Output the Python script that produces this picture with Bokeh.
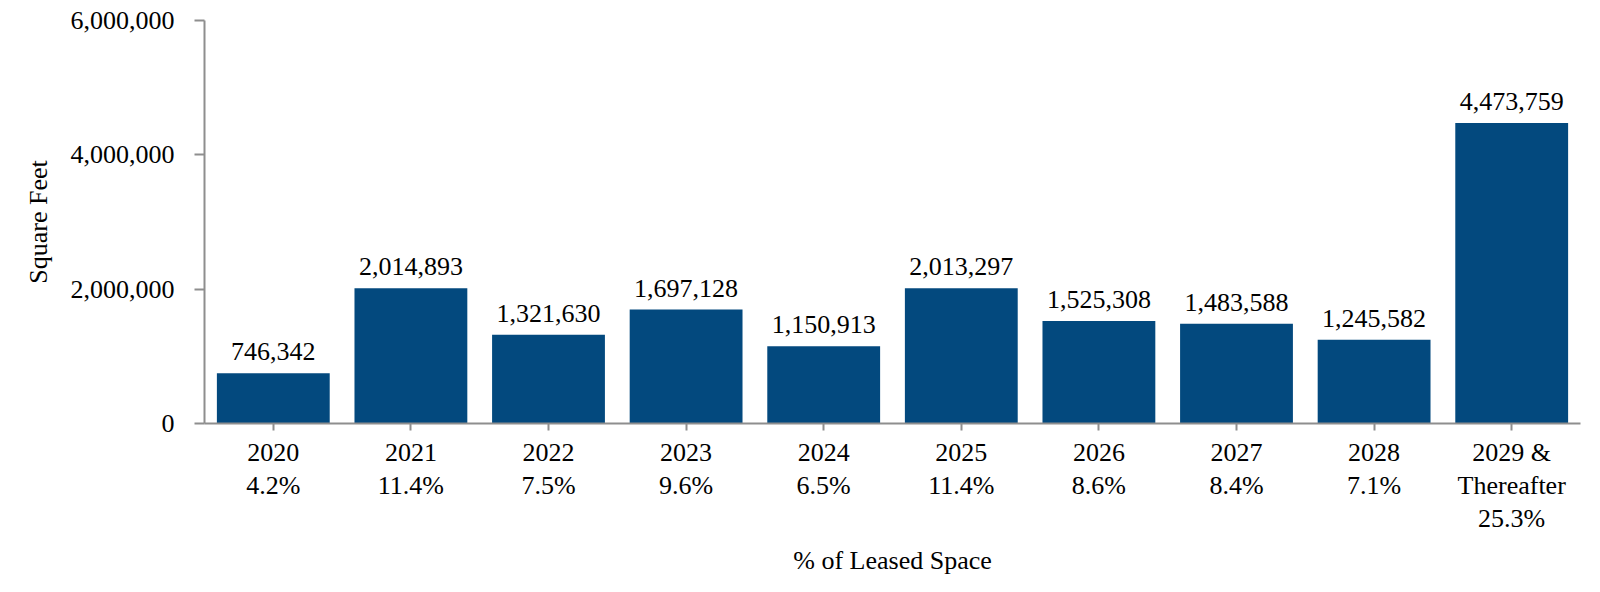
from bokeh.plotting import figure
from bokeh.models import ColumnDataSource, FactorRange, Range1d, FixedTicker, NumeralTickFormatter, LabelSet
from bokeh.embed import file_html
from bokeh.resources import INLINE

years = ["2020", "2021", "2022", "2023", "2024", "2025", "2026", "2027", "2028", "2029 &\nThereafter"]
pct_leased = ["4.2%", "11.4%", "7.5%", "9.6%", "6.5%", "11.4%", "8.6%", "8.4%", "7.1%", "25.3%"]
square_feet = [746342, 2014893, 1321630, 1697128, 1150913, 2013297, 1525308, 1483588, 1245582, 4473759]
y_ticks = [0, 2000000, 4000000, 6000000]

factors = [f"{y}\n{p}" for y, p in zip(years, pct_leased)]
labels = [f"{v:,}" for v in square_feet]

src = ColumnDataSource(dict(x=factors, top=square_feet, label=labels))

FONT = "Liberation Serif"
FS = "26px"
BAR = "#03497E"
AXIS = "#8E8E8E"

p = figure(width=1600, height=592, x_range=FactorRange(factors=factors, range_padding=0),
           y_range=Range1d(0, 6000000), output_backend="svg", toolbar_location=None,
           min_border_left=204, min_border_right=20, min_border_top=20, min_border_bottom=169)
p.outline_line_color = None
p.grid.grid_line_color = None
p.background_fill_color = "white"
p.border_fill_color = "white"

p.vbar(x="x", top="top", width=0.82, source=src, fill_color=BAR, line_color=None)

p.add_layout(LabelSet(x="x", y="top", text="label", source=src, y_offset=13,
                      text_align="center", text_baseline="alphabetic",
                      text_font=FONT, text_font_size=FS, text_color="black"))

ya = p.yaxis[0]
ya.ticker = FixedTicker(ticks=y_ticks)
ya.formatter = NumeralTickFormatter(format="0,0")
ya.axis_label = "Square Feet"
ya.minor_tick_line_color = None
ya.major_tick_out = 10
ya.major_tick_in = 0
ya.major_label_standoff = 20
ya.axis_label_standoff = 15
ya.axis_line_color = AXIS
ya.axis_line_width = 2
ya.major_tick_line_color = AXIS
ya.major_tick_line_width = 2

xa = p.xaxis[0]
xa.axis_label = "% of Leased Space"
xa.major_tick_out = 7
xa.major_tick_in = 0
xa.major_label_standoff = 7
xa.axis_label_standoff = 10
xa.major_label_text_line_height = 1.15
xa.axis_line_color = AXIS
xa.axis_line_width = 2
xa.major_tick_line_color = AXIS
xa.major_tick_line_width = 2
xa.minor_tick_line_color = None

for ax in (xa, ya):
    ax.major_label_text_font = FONT
    ax.major_label_text_font_size = FS
    ax.major_label_text_color = "black"
    ax.axis_label_text_font = FONT
    ax.axis_label_text_font_size = FS
    ax.axis_label_text_font_style = "normal"
    ax.axis_label_text_color = "black"

open("out.html", "w").write(file_html(p, INLINE))
